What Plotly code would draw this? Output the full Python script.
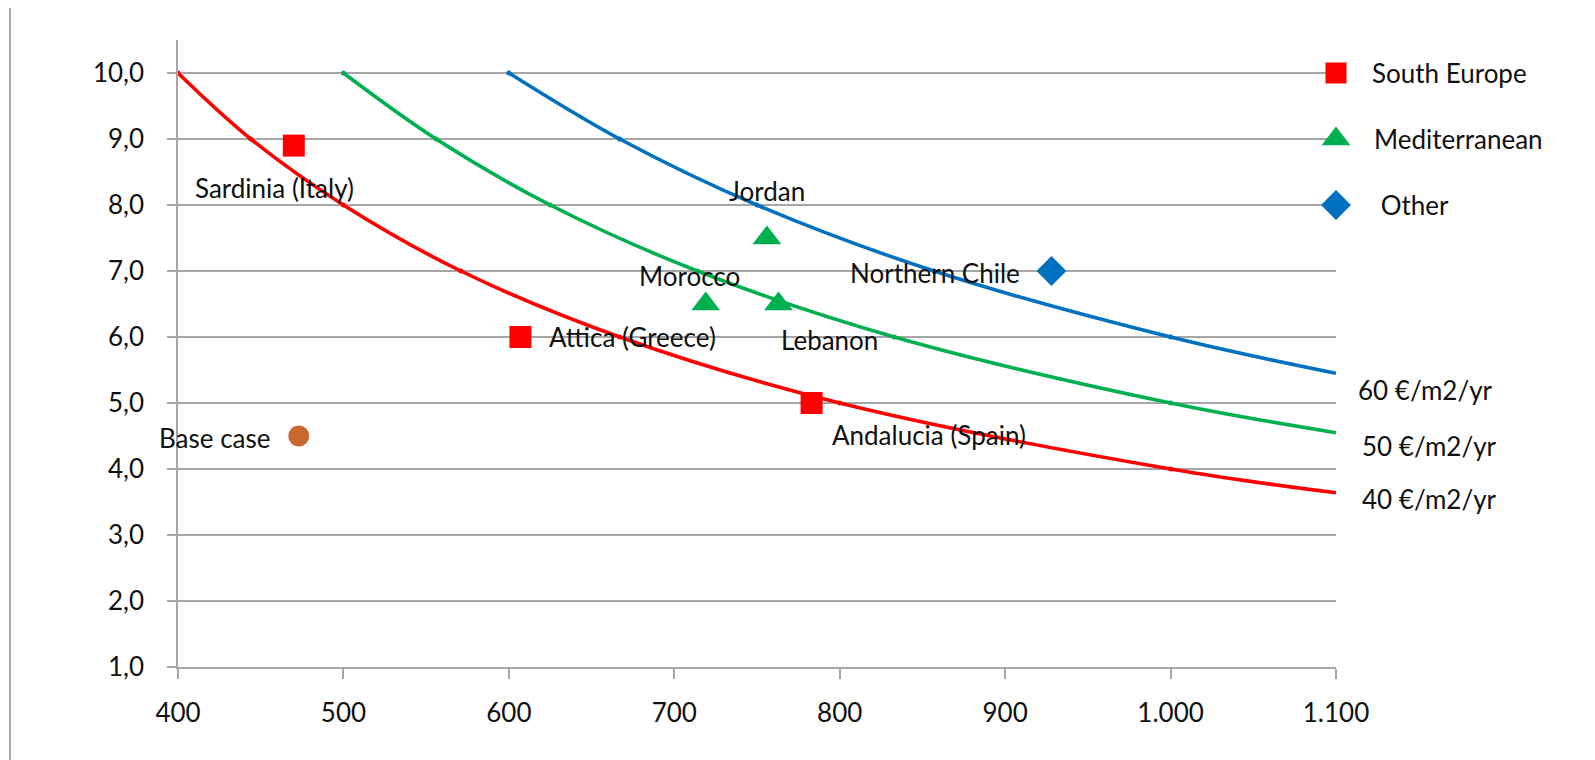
import plotly.graph_objects as go

# ---------- data ----------
# iso-cost curves
curve40_x = [400, 444, 500, 571, 667, 800, 1000, 1100]
curve40_y = [10.0, 9.0, 8.0, 7.0, 6.0, 5.0, 4.0, 3.64]
curve50_x = [500, 556, 625, 714, 833, 1000, 1100]
curve50_y = [10.0, 9.0, 8.0, 7.0, 6.0, 5.0, 4.55]
curve60_x = [600, 667, 750, 857, 1000, 1100]
curve60_y = [10.0, 9.0, 8.0, 7.0, 6.0, 5.45]
curve_names = ["40 €/m2/yr", "50 €/m2/yr", "60 €/m2/yr"]

south_europe_names = ["Sardinia (Italy)", "Attica (Greece)", "Andalucia (Spain)"]
south_europe_x = [470, 607, 783]
south_europe_y = [8.9, 6.0, 5.0]

mediterranean_names = ["Jordan", "Morocco", "Lebanon"]
mediterranean_x = [756, 719, 763]
mediterranean_y = [7.5, 6.5, 6.5]

other_names = ["Northern Chile"]
other_x = [928]
other_y = [7.0]

base_names = ["Base case"]
base_x = [473]
base_y = [4.5]

legend_names = ["South Europe", "Mediterranean", " Other"]
legend_x = [1100, 1100, 1100]
legend_y = [10.0, 9.0, 8.0]

x_ticks = [400, 500, 600, 700, 800, 900, 1000, 1100]
y_ticks = [1, 2, 3, 4, 5, 6, 7, 8, 9, 10]
X_RANGE = [400, 1100]
Y_RANGE = [1, 10.5]

# ---------- style ----------
RED = "#FF0000"
GREEN = "#00B050"
BLUE = "#0070C0"
BROWN = "#C8682E"
GRID = "#A6A6A6"
FONT = "Lato"
TXT = "#111111"
FS = 26

W, H = 1595, 760
ML, MR, MT, MB = 170, 267, 32, 101

fig = go.Figure()

for cx, cy, col in [(curve40_x, curve40_y, RED), (curve50_x, curve50_y, GREEN), (curve60_x, curve60_y, BLUE)]:
    fig.add_trace(go.Scatter(x=cx, y=cy, mode="lines", line=dict(color=col, width=3.6, shape="spline", smoothing=1.0),
                             hoverinfo="skip", showlegend=False, cliponaxis=False))
    fig.add_trace(go.Scatter(x=cx[:-1], y=cy[:-1], mode="markers", marker=dict(color=col, size=5),
                             showlegend=False, cliponaxis=False))

fig.add_trace(go.Scatter(x=south_europe_x, y=south_europe_y, mode="markers", text=south_europe_names,
                         marker=dict(symbol="square", size=22, color=RED), showlegend=False))
fig.add_trace(go.Scatter(x=mediterranean_x, y=mediterranean_y, mode="markers", text=mediterranean_names,
                         marker=dict(symbol="triangle-up", size=25, color=GREEN), showlegend=False))
fig.add_trace(go.Scatter(x=other_x, y=other_y, mode="markers", text=other_names,
                         marker=dict(symbol="diamond", size=23, color=BLUE), showlegend=False))
fig.add_trace(go.Scatter(x=base_x, y=base_y, mode="markers", text=base_names,
                         marker=dict(symbol="circle", size=21, color=BROWN), showlegend=False))

# pseudo-legend markers placed on the right end of the gridlines
for lx, ly, sym, sz, col in zip(legend_x, legend_y, ["square", "triangle-up", "diamond"], [21, 25, 23],
                                [RED, GREEN, BLUE]):
    fig.add_trace(go.Scatter(x=[lx], y=[ly], mode="markers", cliponaxis=False, showlegend=False, opacity=1,
                             marker=dict(symbol=sym, size=sz, color=col, opacity=1)))

# ---------- labels ----------
labels = [
    ("Sardinia (Italy)", 458.6, 8.26, "center"),
    ("Attica (Greece)", 623, 6.0, "left"),
    ("Andalucia (Spain)", 794, 4.52, "left"),
    ("Base case", 457.4, 4.47, "right"),
    ("Jordan", 756, 8.21, "center"),
    ("Morocco", 709, 6.93, "center"),
    ("Lebanon", 794, 5.95, "center"),
    ("Northern Chile", 910, 6.97, "right"),
    (curve_names[2], 1112, 5.2, "left"),
    (curve_names[1], 1114.6, 4.35, "left"),
    (curve_names[0], 1114.6, 3.55, "left"),
    (legend_names[0], 1120.7, 10.0, "left"),
    (legend_names[1], 1122, 9.0, "left"),
    (legend_names[2], 1122, 8.0, "left"),
]
for t, x, y, xa in labels:
    px = (x - X_RANGE[0]) / (X_RANGE[1] - X_RANGE[0])
    fig.add_annotation(x=px, xref="paper", y=y, yref="y", text=t, showarrow=False, xanchor=xa, yanchor="middle",
                       font=dict(family=FONT, size=FS, color=TXT))

# frame line at the far left
pw, ph = W - ML - MR, H - MT - MB
fig.add_shape(type="line", xref="paper", yref="paper",
              x0=(2 - ML) / pw, x1=(2 - ML) / pw,
              y0=-MB / ph, y1=1 + MT / ph,
              line=dict(color="#8C8C8C", width=1.5))

fig.update_layout(
    width=W, height=H,
    margin=dict(l=ML, r=MR, t=MT, b=MB),
    paper_bgcolor="white", plot_bgcolor="white",
    separators=",.",
    font=dict(family=FONT, size=FS, color=TXT),
    xaxis=dict(range=X_RANGE, tickvals=x_ticks, tickformat=",d", showgrid=False, zeroline=False,
               showline=True, linecolor=GRID, linewidth=1.5, ticks="outside", ticklen=10, tickcolor=GRID,
               tickwidth=1.5, ticklabelstandoff=12, tickfont=dict(family=FONT, size=FS, color=TXT)),
    yaxis=dict(range=Y_RANGE, tickvals=y_ticks, tickformat=".1f", showgrid=True, gridcolor=GRID, gridwidth=1.5,
               zeroline=False, showline=True, linecolor=GRID, linewidth=1.5, ticks="outside", ticklen=9,
               tickcolor=GRID, tickwidth=1.5, ticklabelstandoff=18, tickfont=dict(family=FONT, size=FS, color=TXT)),
)

fig.write_html("out.html")
